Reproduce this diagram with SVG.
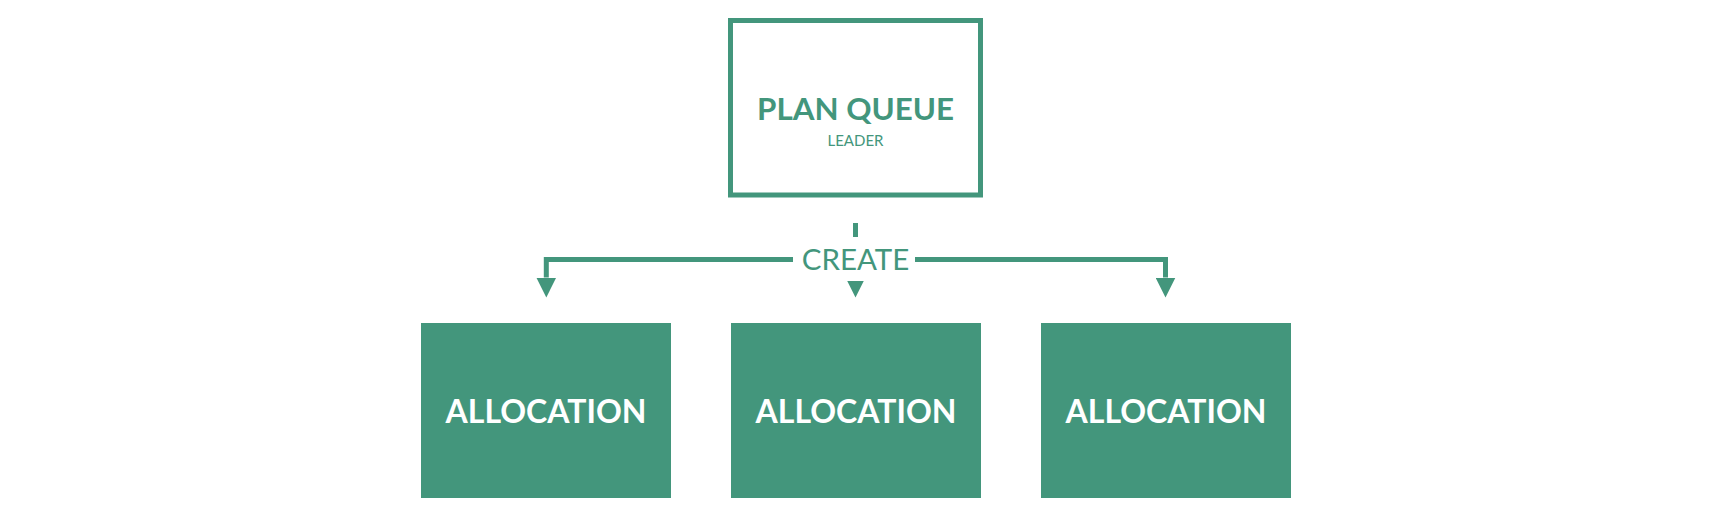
<svg xmlns="http://www.w3.org/2000/svg" width="1710" height="515" viewBox="0 0 1710 515">
<style>
.frame{fill:#fff;stroke:#43967c;stroke-width:5}
.box{fill:#43967c}
.t{font-family:Lato,"Open Sans","Liberation Sans",sans-serif;text-anchor:middle}
.title{font-size:31.3px;font-weight:bold;fill:#43967c}
.sub{font-size:15px;fill:#43967c}
.alloc{font-size:32px;font-weight:bold;fill:#fff}
.edge{fill:none;stroke:#43967c;stroke-width:5}
.lbl{font-size:29.5px;fill:#43967c}
</style>
<defs>
<marker id="ah" viewBox="0 0 20 20" refX="0" refY="10" markerWidth="20" markerHeight="20" markerUnits="userSpaceOnUse" orient="auto">
<path d="M0,0 L20,10 L0,20 z" fill="#43967c"/>
</marker>
</defs>
<rect width="1710" height="515" fill="#fff"/>
<g id="plan-queue">
<rect class="frame" x="730.5" y="20.5" width="250" height="174.5"/>
<text class="t title" x="855.5" y="120">PLAN QUEUE</text>
<text class="t sub" x="855.5" y="146">LEADER</text>
</g>
<g id="connectors">
<path class="edge" d="M855.5,259.5 H546.3 V277.5" marker-end="url(#ah)"/>
<path class="edge" d="M855.5,259.5 H1165.5 V277.5" marker-end="url(#ah)"/>
<path class="edge" d="M855.5,223 V277.5" marker-end="url(#ah)"/>
<g id="create-label">
<rect x="793" y="237" width="122" height="44" fill="#fff"/>
<text class="t lbl" x="855.5" y="270">CREATE</text>
</g>
</g>
<g id="allocation-1">
<rect class="box" x="421" y="323" width="250" height="175"/>
<text class="t alloc" x="546" y="423">ALLOCATION</text>
</g>
<g id="allocation-2">
<rect class="box" x="731" y="323" width="250" height="175"/>
<text class="t alloc" x="856" y="423">ALLOCATION</text>
</g>
<g id="allocation-3">
<rect class="box" x="1041" y="323" width="250" height="175"/>
<text class="t alloc" x="1166" y="423">ALLOCATION</text>
</g>
</svg>
